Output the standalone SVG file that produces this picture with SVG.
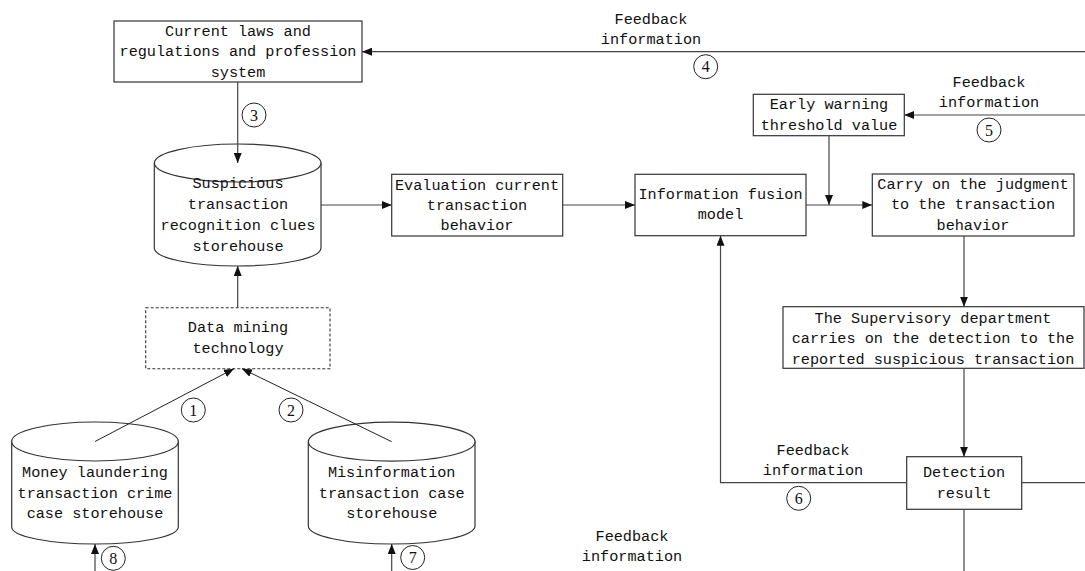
<svg xmlns="http://www.w3.org/2000/svg" width="1085" height="571" viewBox="0 0 1085 571">
<style>
.box{fill:#fff;stroke:#333;stroke-width:1.2}
.dash{fill:#fff;stroke:#333;stroke-width:1.1;stroke-dasharray:3,2}
.t{font-family:"Liberation Mono",monospace;font-size:15.2px;fill:#111;text-anchor:middle}
.c{fill:none;stroke:#222;stroke-width:1}
.n{font-family:"Liberation Serif",serif;font-size:16px;fill:#111;text-anchor:middle}
.ln{fill:none;stroke:#444;stroke-width:1.2}
.thin{fill:none;stroke:#222;stroke-width:1}
</style>
<defs>
<marker id="ah" viewBox="0 0 10 8" refX="10" refY="4" markerWidth="10" markerHeight="8" markerUnits="userSpaceOnUse" orient="auto">
<path d="M0,0 L10,4 L0,8 Z" fill="#111"/>
</marker>
</defs>
<rect width="1085" height="571" fill="#fff"/>

<g id="laws">
<rect class="box" x="114" y="21" width="248" height="61"/>
<text class="t" x="238" y="36">Current laws and</text>
<text class="t" x="238" y="56">regulations and profession</text>
<text class="t" x="238" y="77">system</text>
</g>

<g id="clues">
<path class="box" d="M154.3,163 L154.3,248 A83.3,18 0 0 0 321,248 L321,163"/>
<ellipse class="box" cx="237.7" cy="163" rx="83.3" ry="19"/>
<text class="t" x="238" y="188">Suspicious</text>
<text class="t" x="238" y="209">transaction</text>
<text class="t" x="238" y="230">recognition clues</text>
<text class="t" x="238" y="251">storehouse</text>
</g>

<g id="evaluation">
<rect class="box" x="391.7" y="174.3" width="171" height="61.7"/>
<text class="t" x="477" y="190">Evaluation current</text>
<text class="t" x="477" y="210">transaction</text>
<text class="t" x="477" y="230">behavior</text>
</g>

<g id="fusion">
<rect class="box" x="635" y="174.3" width="171" height="61.4"/>
<text class="t" x="720.5" y="199">Information fusion</text>
<text class="t" x="720.5" y="219">model</text>
</g>

<g id="threshold">
<rect class="box" x="753.3" y="94.3" width="151" height="41.4"/>
<text class="t" x="829" y="109">Early warning</text>
<text class="t" x="829" y="130">threshold value</text>
</g>

<g id="judgment">
<rect class="box" x="872.3" y="174" width="201.7" height="62"/>
<text class="t" x="973" y="189">Carry on the judgment</text>
<text class="t" x="973" y="209">to the transaction</text>
<text class="t" x="973" y="230">behavior</text>
</g>

<g id="supervisory">
<rect class="box" x="783" y="306.7" width="301" height="61.6"/>
<text class="t" x="933" y="323">The Supervisory department</text>
<text class="t" x="933" y="343">carries on the detection to the</text>
<text class="t" x="933" y="364">reported suspicious transaction</text>
</g>

<g id="detection">
<rect class="box" x="906.7" y="456.7" width="115" height="52.6"/>
<text class="t" x="964" y="477">Detection</text>
<text class="t" x="964" y="498">result</text>
</g>

<g id="datamining">
<rect class="dash" x="145.7" y="307.7" width="184.3" height="61"/>
<text class="t" x="238" y="332">Data mining</text>
<text class="t" x="238" y="353">technology</text>
</g>

<g id="moneylaundering">
<path class="box" d="M11.7,441.5 L11.7,527 A83.3,17 0 0 0 178.3,527 L178.3,441.5"/>
<ellipse class="box" cx="95" cy="441.5" rx="83.3" ry="19.5"/>
<text class="t" x="95" y="477">Money laundering</text>
<text class="t" x="95" y="498">transaction crime</text>
<text class="t" x="95" y="518">case storehouse</text>
</g>

<g id="misinformation">
<path class="box" d="M308.3,441.7 L308.3,526 A83.3,18 0 0 0 475,526 L475,441.7"/>
<ellipse class="box" cx="391.7" cy="441.7" rx="83.3" ry="19.5"/>
<text class="t" x="391.7" y="477">Misinformation</text>
<text class="t" x="391.7" y="498">transaction case</text>
<text class="t" x="391.7" y="518">storehouse</text>
</g>

<g id="connectors">
<line class="ln" x1="237.7" y1="82" x2="237.7" y2="163" marker-end="url(#ah)"/>
<line class="ln" x1="1085" y1="51.7" x2="362" y2="51.7" marker-end="url(#ah)"/>
<line class="ln" x1="321" y1="205" x2="391.7" y2="205" marker-end="url(#ah)"/>
<line class="ln" x1="562.7" y1="205" x2="635" y2="205" marker-end="url(#ah)"/>
<line class="ln" x1="806" y1="205" x2="872.3" y2="205" marker-end="url(#ah)"/>
<line class="ln" x1="829" y1="135.7" x2="829" y2="205" marker-end="url(#ah)"/>
<line class="ln" x1="1085" y1="115" x2="904.3" y2="115" marker-end="url(#ah)"/>
<line class="ln" x1="964" y1="236" x2="964" y2="306.7" marker-end="url(#ah)"/>
<line class="ln" x1="964" y1="368.3" x2="964" y2="456.7" marker-end="url(#ah)"/>
<polyline class="ln" points="906.7,482.7 720.5,482.7 720.5,235.7" marker-end="url(#ah)"/>
<line class="ln" x1="1021.7" y1="482.7" x2="1085" y2="482.7"/>
<line class="ln" x1="964" y1="509.3" x2="964" y2="571"/>
<line class="ln" x1="237.7" y1="307.7" x2="237.7" y2="266" marker-end="url(#ah)"/>
<line class="thin" x1="95" y1="441.5" x2="234" y2="368.7" marker-end="url(#ah)"/>
<line class="thin" x1="391.7" y1="441.7" x2="242" y2="368.7" marker-end="url(#ah)"/>
<line class="ln" x1="95" y1="571" x2="95" y2="544" marker-end="url(#ah)"/>
<line class="ln" x1="391.7" y1="571" x2="391.7" y2="544" marker-end="url(#ah)"/>
</g>

<g id="labels">
<text class="t" x="651" y="24">Feedback</text>
<text class="t" x="651" y="44">information</text>
<text class="t" x="989" y="87">Feedback</text>
<text class="t" x="989" y="107">information</text>
<text class="t" x="813" y="455">Feedback</text>
<text class="t" x="813" y="475">information</text>
<text class="t" x="632" y="541">Feedback</text>
<text class="t" x="632" y="561">information</text>

<circle class="c" cx="254" cy="115" r="12"/><text class="n" x="254" y="120.5">3</text>
<circle class="c" cx="705.7" cy="66.7" r="12"/><text class="n" x="705.7" y="72">4</text>
<circle class="c" cx="989" cy="130" r="12"/><text class="n" x="989" y="135.5">5</text>
<circle class="c" cx="798.7" cy="498.3" r="12"/><text class="n" x="798.7" y="504">6</text>
<circle class="c" cx="193.3" cy="410" r="12"/><text class="n" x="193.3" y="415.5">1</text>
<circle class="c" cx="291" cy="410" r="12"/><text class="n" x="291" y="415.5">2</text>
<circle class="c" cx="412.7" cy="557.5" r="12"/><text class="n" x="412.7" y="563">7</text>
<circle class="c" cx="113.3" cy="558.3" r="12"/><text class="n" x="113.3" y="564">8</text>
</g>
</svg>
